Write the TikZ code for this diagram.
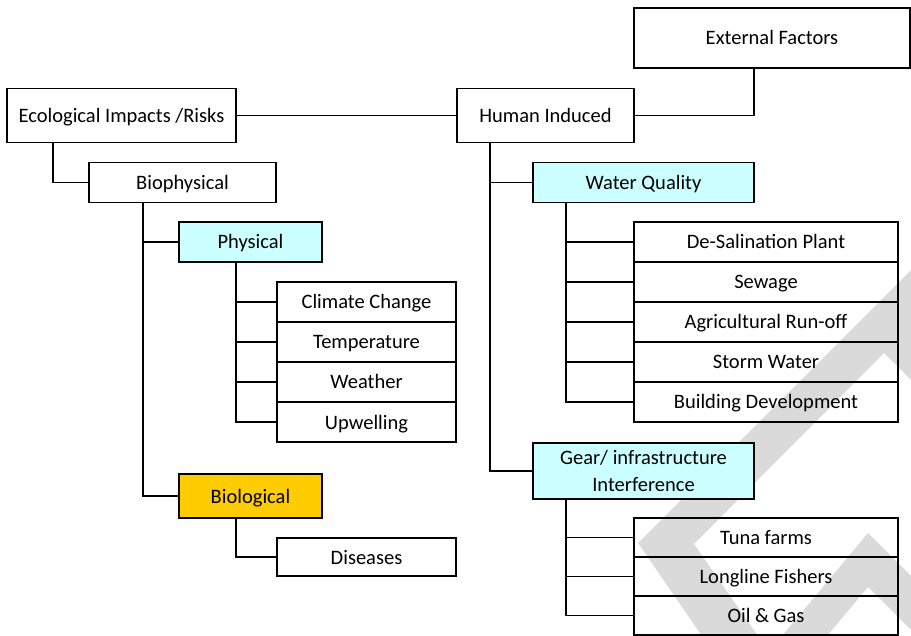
\documentclass[tikz,border=0pt]{standalone}
\usepackage{fontspec}
\setmainfont{Carlito}
\usepackage{xcolor}
\usepackage{tikz}
\usetikzlibrary{positioning,calc}
\definecolor{paleCyan}{HTML}{CCFFFF}
\definecolor{goldFill}{HTML}{FFCC00}
\definecolor{wmGray}{HTML}{DADADA}

\begin{document}
\begin{tikzpicture}[x=1pt,y=-1pt,
  font=\fontsize{20.5}{27}\selectfont,
  box/.style={draw,line width=1.2pt,inner sep=0pt,outer sep=0pt,align=center,
    text height=14pt,text depth=0pt},
  leaf/.style={box,minimum height=40pt},
  link/.style={line width=1.2pt}]
\useasboundingbox (0,0) rectangle (911,636);

% watermark
\fill[wmGray] (638,543) -- (911,270) -- (911,380) -- (884,353) -- (694,544) -- (758,636) -- (702,636) -- cycle;
\fill[wmGray] (868,533) -- (911,576) -- (911,630) -- (868,587) -- (827,636) -- (782,636) -- cycle;

% top level
\node[box,minimum width=229pt,minimum height=54pt] (eco) at (121.5,115.5) {Ecological Impacts /Risks};
\node[box,minimum width=177pt,minimum height=54pt] (human) at (545.5,115.5) {Human Induced};
\node[box,minimum width=276pt,minimum height=60pt] (ext) at (772,38) {External Factors};

% biophysical side
\node[box,minimum width=187pt,minimum height=40pt] (bio) at (182.5,182.5) {Biophysical};
\node[box,fill=paleCyan,minimum width=143pt,minimum height=40pt] (phys) at (250.5,242) {Physical};
\node[leaf,minimum width=179pt] (clim) at (366.5,302) {Climate Change};
\node[leaf,minimum width=179pt,below=0pt of clim] (temp) {Temperature};
\node[leaf,minimum width=179pt,below=0pt of temp] (weath) {Weather};
\node[leaf,minimum width=179pt,below=0pt of weath] (upw) {Upwelling};
\node[box,fill=goldFill,minimum width=143pt,minimum height=44pt] (biol) at (250.5,496) {Biological};
\node[box,minimum width=179pt,minimum height=38pt] (dis) at (366.5,557) {Diseases};

% human induced side
\node[box,fill=paleCyan,minimum width=221pt,minimum height=40pt] (water) at (643.5,182.5) {Water Quality};
\node[leaf,minimum width=264pt] (desal) at (766,242) {De-Salination Plant};
\node[leaf,minimum width=264pt,below=0pt of desal] (sew) {Sewage};
\node[leaf,minimum width=264pt,below=0pt of sew] (agri) {Agricultural Run-off};
\node[leaf,minimum width=264pt,below=0pt of agri] (storm) {Storm Water};
\node[leaf,minimum width=264pt,below=0pt of storm] (build) {Building Development};
\node[box,fill=paleCyan,text height=,text depth=,minimum width=221pt,minimum height=56pt] (gear) at (643.5,471) {Gear/ infrastructure\\Interference};
\node[leaf,minimum width=264pt,minimum height=39pt] (tuna) at (766,537.5) {Tuna farms};
\node[leaf,minimum width=264pt,minimum height=39pt,below=0pt of tuna] (long) {Longline Fishers};
\node[leaf,minimum width=264pt,minimum height=39pt,below=0pt of long] (oil) {Oil \& Gas};

% connectors
\draw[link] (eco.east) -- (human.west);
\draw[link] (human.east) -| ([xshift=-18pt]ext.south);
\draw[link] ([xshift=46pt]eco.south west) |- (bio.west);
\draw[link] ([xshift=54pt]bio.south west) |- (phys.west);
\draw[link] ([xshift=54pt]bio.south west) |- (biol.west);
\draw[link] ([xshift=57pt]phys.south west) |- (clim.west);
\draw[link] ([xshift=57pt]phys.south west) |- (temp.west);
\draw[link] ([xshift=57pt]phys.south west) |- (weath.west);
\draw[link] ([xshift=57pt]phys.south west) |- (upw.west);
\draw[link] ([xshift=57pt]biol.south west) |- (dis.west);
\draw[link] ([xshift=33pt]human.south west) |- (water.west);
\draw[link] ([xshift=33pt]human.south west) |- (gear.west);
\draw[link] ([xshift=33pt]water.south west) |- (desal.west);
\draw[link] ([xshift=33pt]water.south west) |- (sew.west);
\draw[link] ([xshift=33pt]water.south west) |- (agri.west);
\draw[link] ([xshift=33pt]water.south west) |- (storm.west);
\draw[link] ([xshift=33pt]water.south west) |- (build.west);
\draw[link] ([xshift=33pt]gear.south west) |- (tuna.west);
\draw[link] ([xshift=33pt]gear.south west) |- (long.west);
\draw[link] ([xshift=33pt]gear.south west) |- (oil.west);
\end{tikzpicture}
\end{document}
